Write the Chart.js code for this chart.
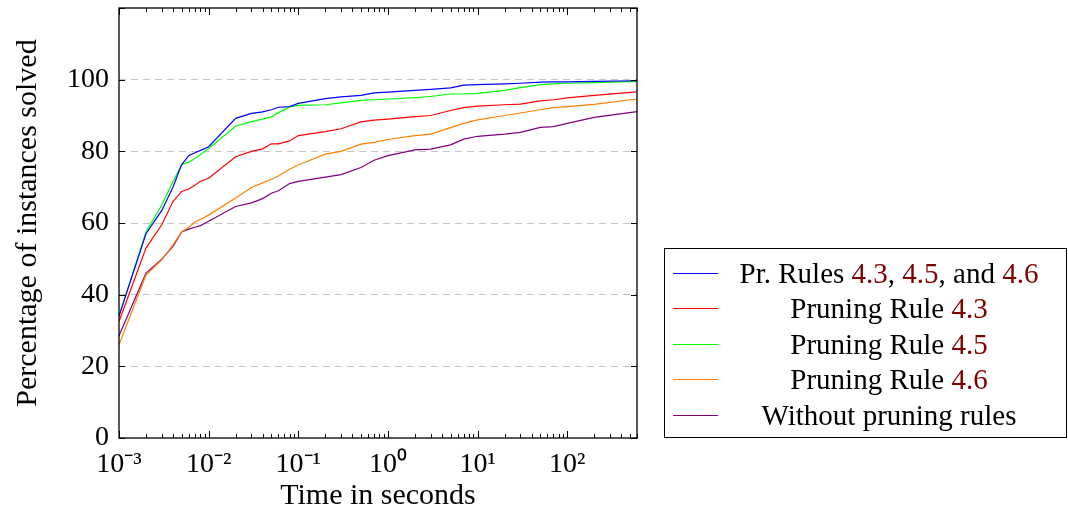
<!DOCTYPE html>
<html>
<head>
<meta charset="utf-8">
<script src="https://cdn.jsdelivr.net/npm/chart.js@4.4.1/dist/chart.umd.min.js"></script>
<style>
  body { margin: 0; background: #fff; }
  #wrap { position: relative; width: 1068px; height: 516px; }
  #legend {
    position: absolute; left: 664px; top: 248px; width: 403px; height: 190px;
    border: 1px solid #000; font-family: "Liberation Serif", serif; font-size: 29px;
    box-sizing: border-box; padding-top: 6px;
  }
  .row { position: relative; }
  .swatch { position: absolute; left: 8px; width: 45px; height: 1px; }
  .txt { position: absolute; left: 55px; top: 0; width: 338px; text-align: center; white-space: nowrap; }
  .ref { color: #800000; }
</style>
</head>
<body>
<div id="wrap">
  <canvas id="chart" width="1068" height="516"></canvas>
  <div id="legend"></div>
</div>
<script>
const times = [0.001, 0.002, 0.003, 0.004, 0.005, 0.006, 0.007, 0.008, 0.01, 0.02, 0.03, 0.04,
  0.05, 0.06, 0.08, 0.1, 0.2, 0.3, 0.5, 0.7, 1, 2, 3, 5, 7, 10, 20, 30, 50, 70, 100, 200, 600];

const allRules = [34, 57, 63.5, 70, 76.3, 78.8, 79.6, 80.2, 81.3, 89.2, 90.6, 91.0,
  91.6, 92.3, 92.5, 93.4, 94.7, 95.2, 95.6, 96.3, 96.5, 97.0, 97.3, 97.7, 98.5, 98.6, 98.8, 99.0, 99.3, 99.4, 99.4, 99.5, 99.7];
const rule43 = [32.5, 53, 59.5, 66, 68.8, 69.5, 70.5, 71.6, 72.5, 78.5, 80, 80.7,
  82.1, 82.1, 82.9, 84.4, 85.5, 86.3, 88.2, 88.7, 89.0, 89.7, 90.0, 91.4, 92.2, 92.6, 93.0, 93.2, 94.1, 94.4, 94.9, 95.6, 96.6];
const rule45 = [34, 57.5, 65, 71.5, 76.3, 77, 77.9, 79, 80.8, 87, 88.3, 89,
  89.6, 90.8, 92.4, 92.8, 93.0, 93.5, 94.2, 94.4, 94.6, 95.0, 95.3, 96.0, 96.0, 96.2, 97.0, 97.8, 98.6, 98.8, 99.0, 99.2, 99.5];
const rule46 = [26, 45.5, 49.7, 53.9, 57.5, 58.8, 60.2, 61, 62.2, 67, 69.9, 71.2,
  72.2, 73.1, 75, 76.2, 79.2, 80, 82.0, 82.5, 83.3, 84.4, 84.8, 86.6, 87.8, 88.8, 90, 90.7, 91.6, 92.2, 92.5, 93.1, 94.6];
const noRules = [28.5, 46, 49.9, 53.5, 57.5, 58.3, 58.8, 59.2, 60.5, 64.6, 65.6, 66.8,
  68.3, 69, 71, 71.6, 72.8, 73.5, 75.5, 77.5, 78.8, 80.4, 80.6, 81.8, 83.4, 84.2, 84.8, 85.3, 86.7, 86.9, 87.8, 89.5, 91.1];

const xTicks = [0.001, 0.01, 0.1, 1, 10, 100];
const yTicks = [0, 20, 40, 60, 80, 100];
const sup = { '-': '⁻', '0': '⁰', '1': '¹', '2': '²', '3': '³' };

const series = [
  { label: ['Pr. Rules ', ['4.3'], ', ', ['4.5'], ', and ', ['4.6']], data: allRules, color: '#0000ff' },
  { label: ['Pruning Rule ', ['4.3']], data: rule43, color: '#ff0000' },
  { label: ['Pruning Rule ', ['4.5']], data: rule45, color: '#00ff00' },
  { label: ['Pruning Rule ', ['4.6']], data: rule46, color: '#ff8000' },
  { label: ['Without pruning rules'], data: noRules, color: '#800080' }
];
const rowHeights = [36, 35, 36, 35, 36];

const font = '"Liberation Serif", serif';

// legend box
const legend = document.getElementById('legend');
series.forEach((s, i) => {
  const h = rowHeights[i];
  const row = document.createElement('div');
  row.className = 'row';
  row.style.height = h + 'px';
  const sw = document.createElement('div');
  sw.className = 'swatch';
  sw.style.background = s.color;
  sw.style.top = Math.floor(h / 2) + 'px';
  const txt = document.createElement('div');
  txt.className = 'txt';
  txt.style.lineHeight = h + 'px';
  s.label.forEach(p => {
    const span = document.createElement('span');
    if (Array.isArray(p)) { span.className = 'ref'; span.textContent = p[0]; }
    else span.textContent = p;
    txt.appendChild(span);
  });
  row.appendChild(sw);
  row.appendChild(txt);
  legend.appendChild(row);
});

// frame and inward tick marks like pgfplots
const framePlugin = {
  id: 'frame',
  afterDatasetsDraw(chart) {
    const { ctx, chartArea: a, scales } = chart;
    ctx.save();
    ctx.strokeStyle = '#000';
    ctx.lineWidth = 1;
    ctx.beginPath();
    yTicks.concat([120]).forEach(v => {
      const y = Math.round(scales.y.getPixelForValue(v)) + 0.5;
      ctx.moveTo(a.left, y); ctx.lineTo(a.left + 6, y);
      ctx.moveTo(a.right, y); ctx.lineTo(a.right - 6, y);
    });
    for (let e = -3; e <= 2; e++) {
      for (let m = 1; m <= 9; m++) {
        const v = m * Math.pow(10, e);
        if (v > 600) break;
        const x = Math.round(scales.x.getPixelForValue(v)) + 0.5;
        const len = m === 1 ? 7 : 4;
        ctx.moveTo(x, a.bottom); ctx.lineTo(x, a.bottom - len);
        ctx.moveTo(x, a.top); ctx.lineTo(x, a.top + len);
      }
    }
    ctx.stroke();
    ctx.lineWidth = 1.3;
    ctx.strokeRect(a.left, a.top, a.right - a.left, a.bottom - a.top);
    ctx.restore();
  }
};

new Chart(document.getElementById('chart'), {
  type: 'line',
  data: {
    datasets: series.map(s => ({
      label: s.label.map(p => Array.isArray(p) ? p[0] : p).join(''),
      data: times.map((t, i) => ({ x: t, y: s.data[i] })),
      borderColor: s.color,
      borderWidth: 1.2,
      pointRadius: 0,
      tension: 0
    }))
  },
  options: {
    responsive: false,
    animation: false,
    layout: { padding: { left: 0, right: 431, top: 8, bottom: 0 } },
    plugins: { legend: { display: false }, tooltip: { enabled: false } },
    scales: {
      x: {
        type: 'logarithmic',
        min: 0.001,
        max: 600,
        afterBuildTicks: sc => { sc.ticks = xTicks.map(v => ({ value: v })); },
        afterFit: sc => { sc.height = 78; sc.paddingLeft = 0; sc.paddingRight = 0; },
        grid: { display: false },
        border: { display: false },
        ticks: {
          color: '#000',
          font: { family: font, size: 28 },
          padding: 2,
          maxRotation: 0,
          autoSkip: false,
          callback: v => '10' + String(Math.round(Math.log10(v))).split('').map(c => sup[c]).join('')
        },
        title: {
          display: true,
          text: 'Time in seconds',
          color: '#000',
          font: { family: font, size: 30 },
          padding: { top: 0, bottom: 2 }
        }
      },
      y: {
        min: 0,
        max: 120,
        afterBuildTicks: sc => { sc.ticks = yTicks.map(v => ({ value: v })); },
        afterFit: sc => { sc.width = 119; sc.paddingTop = 0; sc.paddingBottom = 0; },
        grid: {
          color: v => (v.tick.value === 0 ? 'rgba(0,0,0,0)' : '#c4c4c4'),
          lineWidth: 1,
          drawTicks: false
        },
        border: { display: false, dash: [7, 5] },
        ticks: {
          color: '#000',
          font: { family: font, size: 28 },
          padding: 10
        },
        title: {
          display: true,
          text: 'Percentage of instances solved',
          color: '#000',
          font: { family: font, size: 30 },
          padding: { top: 10, bottom: 0 }
        }
      }
    }
  },
  plugins: [framePlugin]
});
</script>
</body>
</html>
